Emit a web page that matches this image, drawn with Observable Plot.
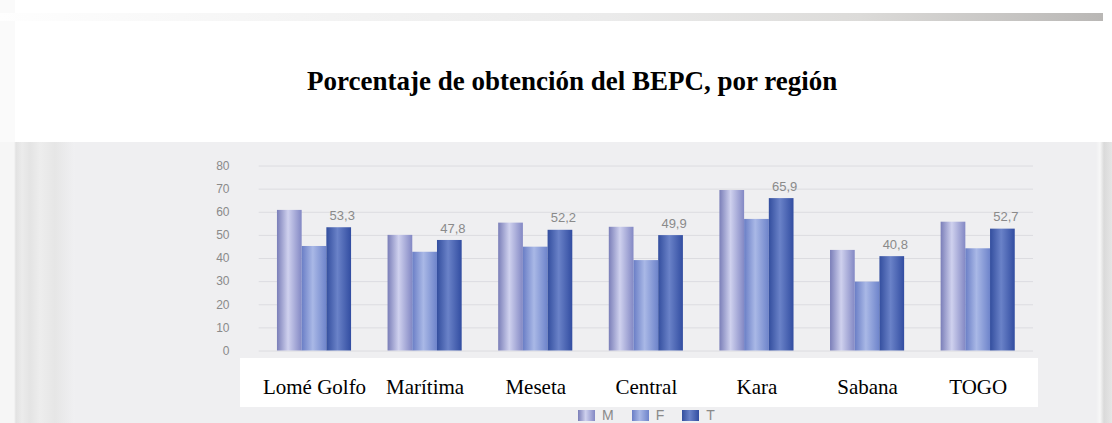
<!DOCTYPE html>
<html>
<head>
<meta charset="utf-8">
<script src="https://cdn.jsdelivr.net/npm/d3@7"></script>
<script src="https://cdn.jsdelivr.net/npm/@observablehq/plot@0.6"></script>
<style>
  html, body { margin: 0; padding: 0; background: #fff; }
  #wrap { position: relative; width: 1112px; height: 423px; overflow: hidden; background: #fff; }
  #strip { position: absolute; left: 0; top: 13px; width: 1103px; height: 8px;
    background: linear-gradient(to right, #fefefe 0%, #f3f3f3 30%, #ebebeb 55%, #dcdbd9 78%, #b9b7b5 100%); }
  #title { position: absolute; left: 307px; top: 68px; white-space: nowrap;
    font-family: "Liberation Serif", "Times New Roman", serif; font-weight: bold;
    font-size: 27px; line-height: 27px; color: #000; }
  #chart { position: absolute; left: 0; top: 142px; width: 1112px; height: 281px; background: #efeff1; }
  #leftstrip { position: absolute; left: 0; top: 0; width: 75px; height: 281px;
    background: linear-gradient(to right, #f6f6f6 0px, #f6f6f6 14px, #e2e2e2 16px, #ebebeb 22px, #e4e4e4 30px, #ededed 40px, #e6e6e6 55px, #f0f0f2 75px); }
  #leftwhite { position: absolute; left: 0; top: 0; width: 15px; height: 142px; background: #fafafa; }
  #rightstrip { position: absolute; left: 1096px; top: 0; width: 16px; height: 281px;
    background: linear-gradient(to right, #efeff1 0px, #f7f7f7 4px, #dadada 8px, #e6e6e6 16px); }
  #labelbox { position: absolute; left: 240px; top: 216px; width: 798px; height: 49px; background: #fff; }
  #plot { position: absolute; left: 0; top: 0; }
  #legend { position: absolute; left: 578px; top: 266px; height: 14px; display: flex; align-items: center;
    font-family: "Liberation Sans", Arial, sans-serif; font-size: 14px; line-height: 14px; color: #8a8a8a; }
  .sw { display: inline-block; width: 17px; height: 11px; margin-right: 7px; }
  .lab { margin-right: 18px; }
</style>
</head>
<body>
<div id="wrap">
  <div id="leftwhite"></div>
  <div id="strip"></div>
  <div id="title">Porcentaje de obtención del BEPC, por región</div>
  <div id="chart">
    <div id="leftstrip"></div>
    <div id="rightstrip"></div>
    <div id="labelbox"></div>
    <div id="plot"></div>
    <div id="legend"></div>
  </div>
</div>
<script>
// ---- data ----
const regions = ["Lomé Golfo", "Marítima", "Meseta", "Central", "Kara", "Sabana", "TOGO"];
const seriesNames = ["M", "F", "T"];
const valuesM = [60.8, 50.0, 55.3, 53.5, 69.4, 43.5, 55.7];
const valuesF = [45.2, 42.7, 44.9, 39.1, 56.9, 29.8, 44.2];
const valuesT = [53.3, 47.8, 52.2, 49.9, 65.9, 40.8, 52.7];
const yTicks = [0, 10, 20, 30, 40, 50, 60, 70, 80];

// ---- styles ----
const gradStops = {
  M: [["0%", "#7a7eb8"], ["45%", "#cfd1ee"], ["100%", "#8388c4"]],
  F: [["0%", "#6a7ec6"], ["45%", "#a9b8e6"], ["100%", "#6e84cb"]],
  T: [["0%", "#334e9e"], ["45%", "#6a82c8"], ["100%", "#324da1"]]
};
const groupPad = 0.33;
const barW = (1 - groupPad) / 3;

const seriesValues = {M: valuesM, F: valuesF, T: valuesT};
const rows = [];
seriesNames.forEach((s, j) => {
  regions.forEach((r, i) => rows.push({region: r, i, series: s, j, value: seriesValues[s][i]}));
});
const x1 = d => d.i + groupPad / 2 + d.j * barW;
const x2 = d => d.i + groupPad / 2 + (d.j + 1) * barW;
const xc = d => d.i + groupPad / 2 + (d.j + 0.5) * barW;
const centers = regions.map((r, i) => i + 0.5);

const svg = Plot.plot({
  width: 1112,
  height: 281,
  marginTop: 23.5,
  marginBottom: 72.5,
  marginLeft: 258.7,
  marginRight: 79,
  style: {background: "transparent", fontFamily: "'Liberation Sans', Arial, sans-serif", overflow: "visible"},
  x: {type: "linear", domain: [0, regions.length], label: null, axis: null},
  y: {domain: [0, 80], label: null, axis: null},
  marks: [
    Plot.gridY(yTicks, {stroke: "#dcdce0", strokeOpacity: 1}),
    ...seriesNames.map(s => Plot.rectY(rows.filter(d => d.series === s), {
      x1, x2, y: "value", fill: `url(#grad${s})`
    })),
    Plot.text(rows.filter(d => d.series === "T"), {
      x: xc, y: "value", text: d => d.value.toFixed(1).replace(".", ","),
      dy: -12, dx: 3, fontSize: 13, fill: "#8a8a8a", ariaLabel: "valores"
    }),
    Plot.axisY(yTicks, {tickSize: 0, tickPadding: 29.7, fontSize: 12, fill: "#8a8a8a", label: null}),
    Plot.axisX(centers, {
      tickSize: 0, tickPadding: 27.6, fontSize: 21, fill: "#000", label: null,
      fontFamily: "'Liberation Serif', 'Times New Roman', serif",
      tickFormat: d => regions[Math.floor(d)]
    })
  ]
});

// gradient defs
const NS = "http://www.w3.org/2000/svg";
const defs = document.createElementNS(NS, "defs");
for (const s of seriesNames) {
  const g = document.createElementNS(NS, "linearGradient");
  g.setAttribute("id", "grad" + s);
  g.setAttribute("x1", "0"); g.setAttribute("x2", "1");
  g.setAttribute("y1", "0"); g.setAttribute("y2", "0");
  for (const [off, col] of gradStops[s]) {
    const st = document.createElementNS(NS, "stop");
    st.setAttribute("offset", off);
    st.setAttribute("stop-color", col);
    g.appendChild(st);
  }
  defs.appendChild(g);
}
svg.insertBefore(defs, svg.firstChild);
svg.querySelectorAll('g[aria-label="valores"] text').forEach(t => t.setAttribute("letter-spacing", "2.5"));
document.getElementById("plot").appendChild(svg);

// legend
const legend = document.getElementById("legend");
seriesNames.forEach(s => {
  const sw = document.createElement("span");
  sw.className = "sw";
  sw.style.background = `linear-gradient(to right, ${gradStops[s].map(([o, c]) => c + " " + o).join(", ")})`;
  const lab = document.createElement("span");
  lab.className = "lab";
  lab.textContent = s;
  legend.appendChild(sw);
  legend.appendChild(lab);
});
</script>
</body>
</html>
